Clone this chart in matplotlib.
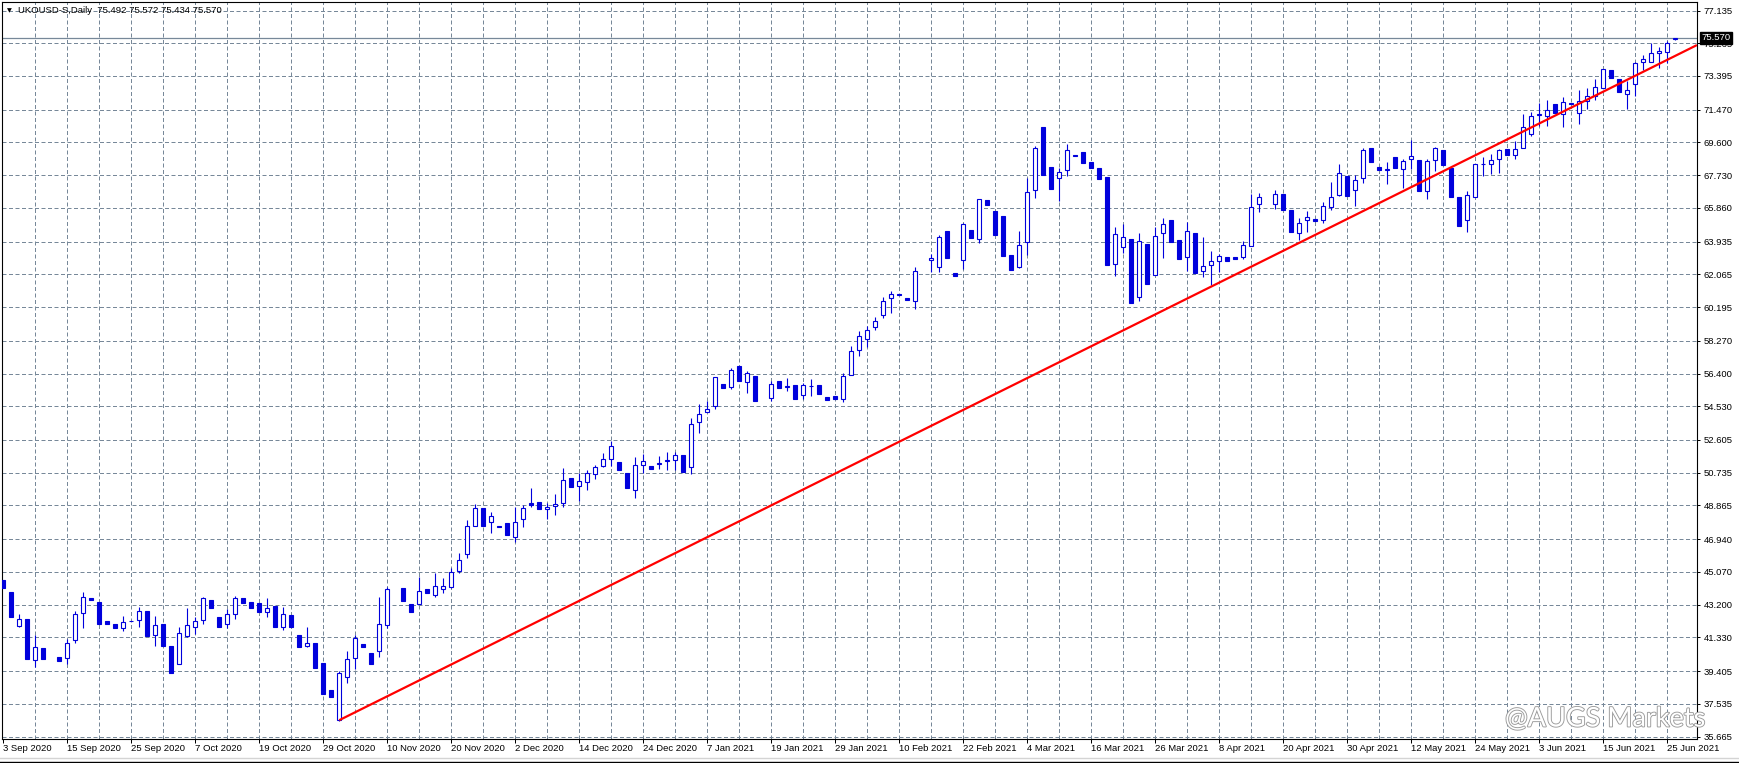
import numpy as np
import matplotlib
matplotlib.use("Agg")
import matplotlib.pyplot as plt
import matplotlib.patheffects as pe
from matplotlib.lines import Line2D

nan = np.nan

# header text and last bar
symbol = "UKOUSD-S,Daily"
last_bar = [75.492, 75.572, 75.434, 75.570]
bid_price = 75.570

# date labels on the time axis (one every 8 bars)
date_labels = ["3 Sep 2020", "15 Sep 2020", "25 Sep 2020", "7 Oct 2020", "19 Oct 2020",
               "29 Oct 2020", "10 Nov 2020", "20 Nov 2020", "2 Dec 2020", "14 Dec 2020",
               "24 Dec 2020", "7 Jan 2021", "19 Jan 2021", "29 Jan 2021", "10 Feb 2021",
               "22 Feb 2021", "4 Mar 2021", "16 Mar 2021", "26 Mar 2021", "8 Apr 2021",
               "20 Apr 2021", "30 Apr 2021", "12 May 2021", "24 May 2021", "3 Jun 2021",
               "15 Jun 2021", "25 Jun 2021"]

# price scale labels
price_ticks = [77.135, 75.265, 73.395, 71.470, 69.600, 67.730, 65.860, 63.935, 62.065,
               60.195, 58.270, 56.400, 54.530, 52.605, 50.735, 48.865, 46.940, 45.070,
               43.200, 41.330, 39.405, 37.535, 35.665]

# daily OHLC (nan = holiday bar, not visible)
opens = [44.60, 43.94, 42.00, 42.38, 40.02, 40.72, nan, 40.23, 40.13, 41.16,
         42.70, 43.58, 43.35, 42.26, 42.07, 41.84, 42.26, 42.30, 42.83, 41.44,
         42.09, 40.84, 39.79, 41.41, 41.90, 42.30, 43.46, 42.47, 42.07, 42.64,
         43.58, 43.35, 43.29, 42.76, 43.12, 41.94, 42.61, 41.46, 40.86, 40.99,
         39.85, 38.32, 36.61, 39.05, 40.13, 40.95, 40.42, 40.53, 42.05, nan,
         44.13, 43.22, 43.22, 44.07, 43.73, 44.07, 44.23, 45.14, 46.11, 47.71,
         48.70, 47.90, 47.69, 47.84, 47.04, 48.07, 48.98, 49.04, 48.64, 48.81,
         49.02, 50.43, 49.96, 50.18, 50.64, 51.10, 51.50, 51.35, 50.70, 49.73,
         51.16, 51.12, 51.21, 51.43, 51.44, 51.75, 51.04, 53.65, 54.18, 54.53,
         55.78, 55.61, 56.83, 55.92, 56.26, nan, 55.02, 55.95, 55.63, 55.73,
         55.15, 55.68, 55.74, 55.06, 55.12, 54.93, 56.30, 57.72, 58.35, 59.04,
         59.76, 60.70, 60.94, 60.71, 60.52, nan, 62.87, 62.47, 64.52, 62.12,
         62.87, 64.60, 64.06, 66.31, 65.68, 65.40, 63.17, 62.47, 63.89, 66.86,
         70.48, 68.20, 67.55, 68.00, 68.88, 69.05, 68.48, 68.14, 67.62, 62.64,
         63.61, 64.08, 60.75, 63.80, 62.01, 64.41, 65.17, 64.03, 63.04, 64.41,
         62.27, 62.58, 62.81, 63.04, 63.07, 63.07, 63.70, 66.06, nan, 66.06,
         66.65, 65.74, 64.44, 65.15, 65.25, 65.15, 65.89, 66.62, 67.70, 66.86,
         67.55, 69.26, 68.20, 68.02, 68.77, 68.06, 68.63, 68.60, 66.84, 68.58,
         69.17, 68.12, 66.50, 65.15, 66.46, 68.34, 68.35, 68.63, 69.22, 68.86,
         69.26, 70.10, 71.18, 71.09, 71.78, 71.24, 71.86, 71.26, 71.97, 72.27,
         72.73, 73.74, 73.20, 72.35, 72.92, 74.18, 74.18, 74.69, 74.78, 75.492]

highs = [44.60, 43.94, 42.66, 42.38, 41.46, 40.72, nan, 40.23, 41.22, 42.83,
         43.92, 43.58, 43.35, 42.26, 42.07, 42.55, 42.27, 43.04, 42.83, 42.55,
         42.09, 40.84, 41.92, 42.99, 42.51, 43.61, 43.46, 42.47, 42.97, 43.67,
         43.58, 43.35, 43.29, 43.56, 43.12, 43.08, 42.61, 41.46, 41.92, 40.99,
         39.85, 38.32, 39.43, 40.55, 41.46, 40.95, 40.42, 43.63, 44.23, nan,
         44.13, 43.22, 44.76, 44.07, 44.99, 44.70, 45.31, 46.13, 48.03, 48.93,
         48.70, 48.47, 47.69, 47.84, 48.80, 48.89, 49.84, 49.04, 48.98, 49.52,
         51.00, 50.43, 50.74, 50.89, 51.17, 51.84, 52.57, 51.35, 50.70, 51.63,
         51.80, 51.12, 51.69, 51.92, 51.90, 51.75, 53.84, 54.66, 54.83, 56.18,
         55.78, 56.73, 56.83, 56.54, 56.26, nan, 55.99, 55.95, 56.12, 55.73,
         55.84, 56.07, 55.74, 55.06, 55.12, 56.41, 57.97, 58.81, 59.11, 59.65,
         60.75, 61.10, 60.94, 60.71, 62.48, nan, 63.21, 64.29, 64.52, 62.12,
         64.98, 64.60, 66.35, 66.31, 65.68, 65.40, 63.17, 64.54, 67.59, 69.41,
         70.48, 68.20, 68.16, 69.49, 68.88, 69.05, 68.48, 68.14, 67.62, 64.77,
         64.92, 64.08, 64.41, 63.80, 64.77, 65.28, 65.17, 64.03, 65.04, 64.41,
         64.20, 63.40, 63.23, 63.04, 63.07, 63.97, 66.65, 66.71, nan, 66.88,
         66.65, 65.74, 65.26, 65.68, 65.25, 66.20, 67.34, 68.37, 67.70, 67.72,
         69.26, 69.26, 68.20, 68.46, 68.77, 68.65, 69.74, 68.60, 68.65, 69.36,
         69.17, 68.12, 66.50, 66.83, 68.35, 68.79, 68.96, 69.24, 69.22, 69.70,
         71.22, 71.33, 71.85, 72.02, 71.78, 72.21, 71.86, 72.59, 72.73, 73.22,
         73.79, 73.74, 73.20, 73.11, 74.18, 74.59, 75.30, 75.03, 75.41, 75.572]

lows = [44.17, 42.51, 41.90, 40.11, 39.66, 40.07, nan, 40.00, 39.81, 41.02,
        41.88, 43.48, 42.11, 42.11, 41.88, 41.71, 42.25, 41.94, 41.43, 40.86,
        40.86, 39.27, 39.79, 41.37, 41.52, 42.07, 42.99, 41.94, 41.88, 42.40,
        43.31, 43.02, 42.76, 42.51, 41.94, 41.75, 41.94, 40.80, 40.80, 39.60,
        38.11, 37.94, 36.57, 38.74, 39.50, 40.80, 39.79, 40.23, 41.85, nan,
        43.43, 42.80, 43.22, 43.88, 43.65, 43.88, 44.17, 45.02, 45.88, 47.71,
        47.71, 47.31, 47.65, 47.20, 46.80, 47.65, 48.80, 48.64, 48.09, 48.34,
        48.79, 49.94, 49.12, 49.75, 50.36, 51.08, 51.14, 50.91, 49.88, 49.27,
        50.70, 50.96, 50.95, 50.89, 50.87, 50.79, 50.68, 53.02, 54.18, 54.35,
        55.59, 55.50, 55.99, 55.27, 54.85, nan, 54.85, 55.59, 55.40, 54.96,
        54.93, 55.13, 55.25, 54.91, 54.96, 54.75, 56.30, 57.42, 57.93, 58.89,
        59.59, 59.87, 60.90, 60.62, 60.07, nan, 62.22, 62.22, 62.98, 61.99,
        62.37, 64.16, 63.87, 66.02, 64.31, 63.13, 62.31, 62.41, 63.15, 66.44,
        67.76, 66.96, 66.27, 67.70, 68.84, 68.44, 68.14, 67.53, 62.62, 61.99,
        63.30, 60.45, 60.52, 61.53, 62.01, 62.98, 63.93, 62.96, 62.27, 62.16,
        61.93, 61.46, 62.18, 62.85, 62.96, 62.92, 63.70, 65.64, nan, 65.82,
        65.76, 64.50, 64.03, 64.50, 65.13, 65.02, 65.74, 66.54, 66.56, 65.97,
        67.26, 68.50, 68.04, 67.23, 68.16, 67.02, 68.06, 66.84, 66.39, 67.99,
        68.33, 66.50, 64.85, 64.50, 66.46, 67.70, 67.80, 67.87, 68.90, 68.67,
        69.26, 69.95, 70.53, 70.54, 71.30, 70.50, 71.82, 70.65, 71.51, 72.02,
        72.73, 73.30, 72.50, 71.53, 72.27, 73.74, 74.18, 73.83, 74.12, 75.434]

closes = [44.17, 42.51, 42.38, 40.11, 40.78, 40.07, nan, 40.00, 40.99, 42.64,
          43.62, 43.48, 42.11, 42.11, 41.88, 42.19, 42.27, 42.82, 41.43, 42.02,
          40.86, 39.27, 41.56, 42.02, 42.24, 43.56, 42.99, 41.94, 42.64, 43.56,
          43.31, 43.02, 42.76, 42.99, 41.94, 42.64, 41.94, 40.80, 40.99, 39.60,
          38.11, 37.94, 39.28, 40.11, 41.27, 40.80, 39.79, 42.07, 44.07, nan,
          43.43, 42.80, 44.00, 43.88, 44.24, 44.24, 45.08, 45.73, 47.67, 48.70,
          47.71, 48.28, 47.65, 47.20, 47.90, 48.70, 48.89, 48.64, 48.76, 48.96,
          50.30, 49.94, 50.24, 50.70, 51.06, 51.50, 52.24, 50.91, 49.88, 51.16,
          51.38, 50.96, 51.29, 51.45, 51.73, 50.79, 53.50, 54.07, 54.35, 56.18,
          55.59, 56.58, 55.99, 56.41, 54.85, nan, 55.78, 55.59, 55.67, 54.96,
          55.73, 55.70, 55.25, 54.91, 54.96, 56.24, 57.67, 58.54, 58.87, 59.42,
          60.52, 60.92, 60.90, 60.62, 62.24, nan, 62.98, 64.18, 62.98, 61.99,
          64.92, 64.16, 66.35, 66.02, 64.31, 63.13, 62.31, 63.72, 66.75, 69.26,
          67.76, 66.96, 67.89, 69.15, 68.84, 68.44, 68.14, 67.53, 62.62, 64.35,
          64.20, 60.45, 63.95, 61.53, 64.24, 64.92, 63.93, 62.96, 64.52, 62.16,
          62.52, 62.85, 63.09, 62.85, 62.96, 63.72, 65.89, 66.46, nan, 66.64,
          65.76, 64.50, 64.98, 65.32, 65.13, 65.95, 66.46, 67.83, 66.56, 67.43,
          69.15, 68.50, 68.04, 68.06, 68.16, 68.52, 68.81, 66.84, 68.52, 69.26,
          68.33, 66.50, 64.85, 66.58, 68.35, 68.36, 68.58, 69.15, 68.90, 69.22,
          70.47, 71.09, 71.21, 71.44, 71.30, 71.93, 71.82, 71.97, 72.23, 72.75,
          73.79, 73.30, 72.50, 72.59, 74.12, 74.35, 74.69, 74.82, 75.28, 75.570]

# red trend line anchors (bar index, price)
trend_idx = [42, 211.7]
trend_price = [36.60, 75.16]

# ---- drawing ----
W, H = 1740, 763
blue = "#0000dc"
grid_col = "#778899"
plt.rcParams["font.family"] = ["Liberation Sans", "DejaVu Sans"]

fig = plt.figure(figsize=(W / 100, H / 100), dpi=100, facecolor="white")
ax = fig.add_axes([1.7 / W, 1 - 739 / H, 1695 / W, 737.3 / H])
ax.set_facecolor("white")

o = np.array(opens)
hi = np.array(highs)
lo = np.array(lows)
c = np.array(closes)
x = np.arange(len(o))
ok = ~np.isnan(o)
up = ok & (c >= o)
dn = ok & (c < o)

# grid
for gx in range(4, len(o) + 3, 4):
    ax.axvline(gx, color=grid_col, lw=0.72, ls=(0, (4, 2.5)), zorder=1)
for gy in price_ticks:
    ax.axhline(gy, color=grid_col, lw=0.72, ls=(0, (4, 2.5)), zorder=1)

# bid line
ax.axhline(bid_price, color=grid_col, lw=0.9, zorder=2)

# candles
ax.vlines(x[ok], lo[ok], hi[ok], color=blue, lw=0.8, zorder=3)
ax.bar(x[up], c[up] - o[up], bottom=o[up], width=0.5, facecolor="white",
       edgecolor=blue, lw=0.8, zorder=4)
ax.bar(x[dn], o[dn] - c[dn], bottom=c[dn], width=0.5, facecolor=blue,
       edgecolor=blue, lw=0.8, zorder=4)

# trend line
ax.plot(trend_idx, trend_price, color="red", lw=1.6, zorder=5, solid_capstyle="butt")

ax.set_xlim(-0.2, 211.675)
ax.set_ylim(35.523, 77.638)

# axes / ticks
ax.yaxis.tick_right()
ax.set_yticks(price_ticks)
ax.set_yticklabels(["%.3f" % p for p in price_ticks])
ax.set_xticks(np.arange(0, 8 * len(date_labels), 8))
ax.set_xticklabels(date_labels)
for lab in ax.get_xticklabels():
    lab.set_horizontalalignment("left")
ax.tick_params(axis="y", direction="out", length=2.5, width=0.72, pad=2.5,
               labelsize=6.8, colors="black")
ax.tick_params(axis="x", direction="out", length=3, width=0.72, pad=0.5,
               labelsize=6.8, colors="black")
for s in ax.spines.values():
    s.set_color("black")
    s.set_linewidth(0.8)

# current price box
ax.annotate("%.3f" % bid_price, xy=(1, bid_price), xycoords=("axes fraction", "data"),
            xytext=(5, 0), textcoords="offset pixels", ha="left", va="center",
            color="white", fontsize=6.8, zorder=10, annotation_clip=False,
            bbox=dict(boxstyle="square,pad=0.15", facecolor="black", edgecolor="black"))

# header
fig.text(7 / W, 1 - 11 / H, "\u25bc", fontsize=4.5, family="DejaVu Sans",
         va="center", ha="left", color="black")
fig.text(18 / W, 1 - 10.5 / H,
         symbol + "  " + " ".join("%.3f" % v for v in last_bar),
         fontsize=6.8, va="center", ha="left", color="black")

# watermark
fig.text(1505 / W, 1 - 719 / H, "@AUGS Markets", fontsize=19.5, family="Lato",
         color="white", va="center", ha="left", zorder=20,
         path_effects=[pe.withStroke(linewidth=1.3, foreground="#9a9a9a")])

# window edge lines
fig.add_artist(Line2D([0, 1], [1 - 757.5 / H] * 2, color="#d4d4d4", lw=1,
                      transform=fig.transFigure))
fig.add_artist(Line2D([0, 1], [1 - 761.5 / H] * 2, color="black", lw=1,
                      transform=fig.transFigure))

fig.savefig("out.png", dpi=100, facecolor="white")
